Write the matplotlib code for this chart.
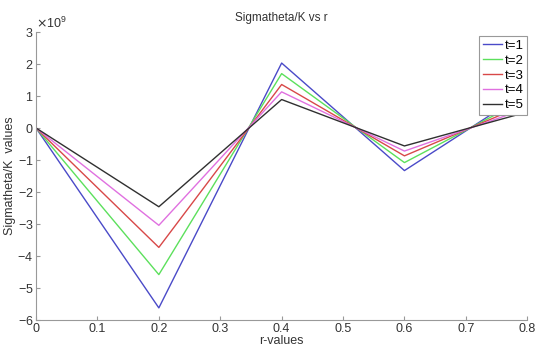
import numpy as np
import matplotlib
matplotlib.use("Agg")
import matplotlib.pyplot as plt
from matplotlib.ticker import ScalarFormatter

# data
r_values = [0.0, 0.2, 0.4, 0.6, 0.8]
t_labels = ["t=1", "t=2", "t=3", "t=4", "t=5"]
sig_t1 = [0.0, -5.62e9, 2.03e9, -1.33e9, 1.15e9]
sig_t2 = [0.0, -4.58e9, 1.70e9, -1.08e9, 0.94e9]
sig_t3 = [0.0, -3.73e9, 1.36e9, -0.87e9, 0.76e9]
sig_t4 = [0.0, -3.04e9, 1.13e9, -0.72e9, 0.62e9]
sig_t5 = [0.0, -2.46e9, 0.89e9, -0.56e9, 0.50e9]
x_ticks = [0, 0.1, 0.2, 0.3, 0.4, 0.5, 0.6, 0.7, 0.8]
y_ticks = [-6e9, -5e9, -4e9, -3e9, -2e9, -1e9, 0, 1e9, 2e9, 3e9]

colors = ["#4a4ac8", "#5ce05c", "#d84848", "#e070e0", "#303030"]

plt.rcParams["font.family"] = ["Liberation Sans", "DejaVu Sans"]

fig = plt.figure(figsize=(5.38, 3.46), dpi=100)
ax = fig.add_axes([0.067, 0.075, 0.913, 0.8325])

for ys, lab, c in zip([sig_t1, sig_t2, sig_t3, sig_t4, sig_t5], t_labels, colors):
    ax.plot(r_values, ys, color=c, lw=1.0, label=lab)

ax.set_xlim(0, 0.8)
ax.set_ylim(-6e9, 3e9)
ax.set_xticks(x_ticks)
ax.set_xticklabels(["0", "0.1", "0.2", "0.3", "0.4", "0.5", "0.6", "0.7", "0.8"])
ax.set_yticks(y_ticks)
fmt = ScalarFormatter(useMathText=True)
fmt.set_powerlimits((0, 0))
ax.yaxis.set_major_formatter(fmt)
ax.yaxis.get_offset_text().set_fontsize(9)
ax.yaxis.get_offset_text().set_color("#444444")

for s in ["top", "right"]:
    ax.spines[s].set_visible(False)
for s in ["left", "bottom"]:
    ax.spines[s].set_color("#999999")
    ax.spines[s].set_linewidth(0.8)
ax.tick_params(direction="in", length=3, width=0.8, color="#999999",
               labelsize=9, labelcolor="#333333", pad=2)

ax.set_title("Sigmatheta/K vs r", fontsize=8.5, color="#333333", pad=8)
ax.set_xlabel("r-values", fontsize=9, color="#333333", labelpad=0)
ax.set_ylabel("Sigmatheta/K  values", fontsize=9, color="#333333", labelpad=1)

leg = ax.legend(loc="upper right", bbox_to_anchor=(1.0, 0.985), fontsize=9.5,
                fancybox=False, edgecolor="#999999", framealpha=1,
                handlelength=1.5, handletextpad=0.2, borderpad=0.25,
                labelspacing=0.2, borderaxespad=0)
leg.get_frame().set_linewidth(0.8)

fig.savefig("out.png", dpi=100)
